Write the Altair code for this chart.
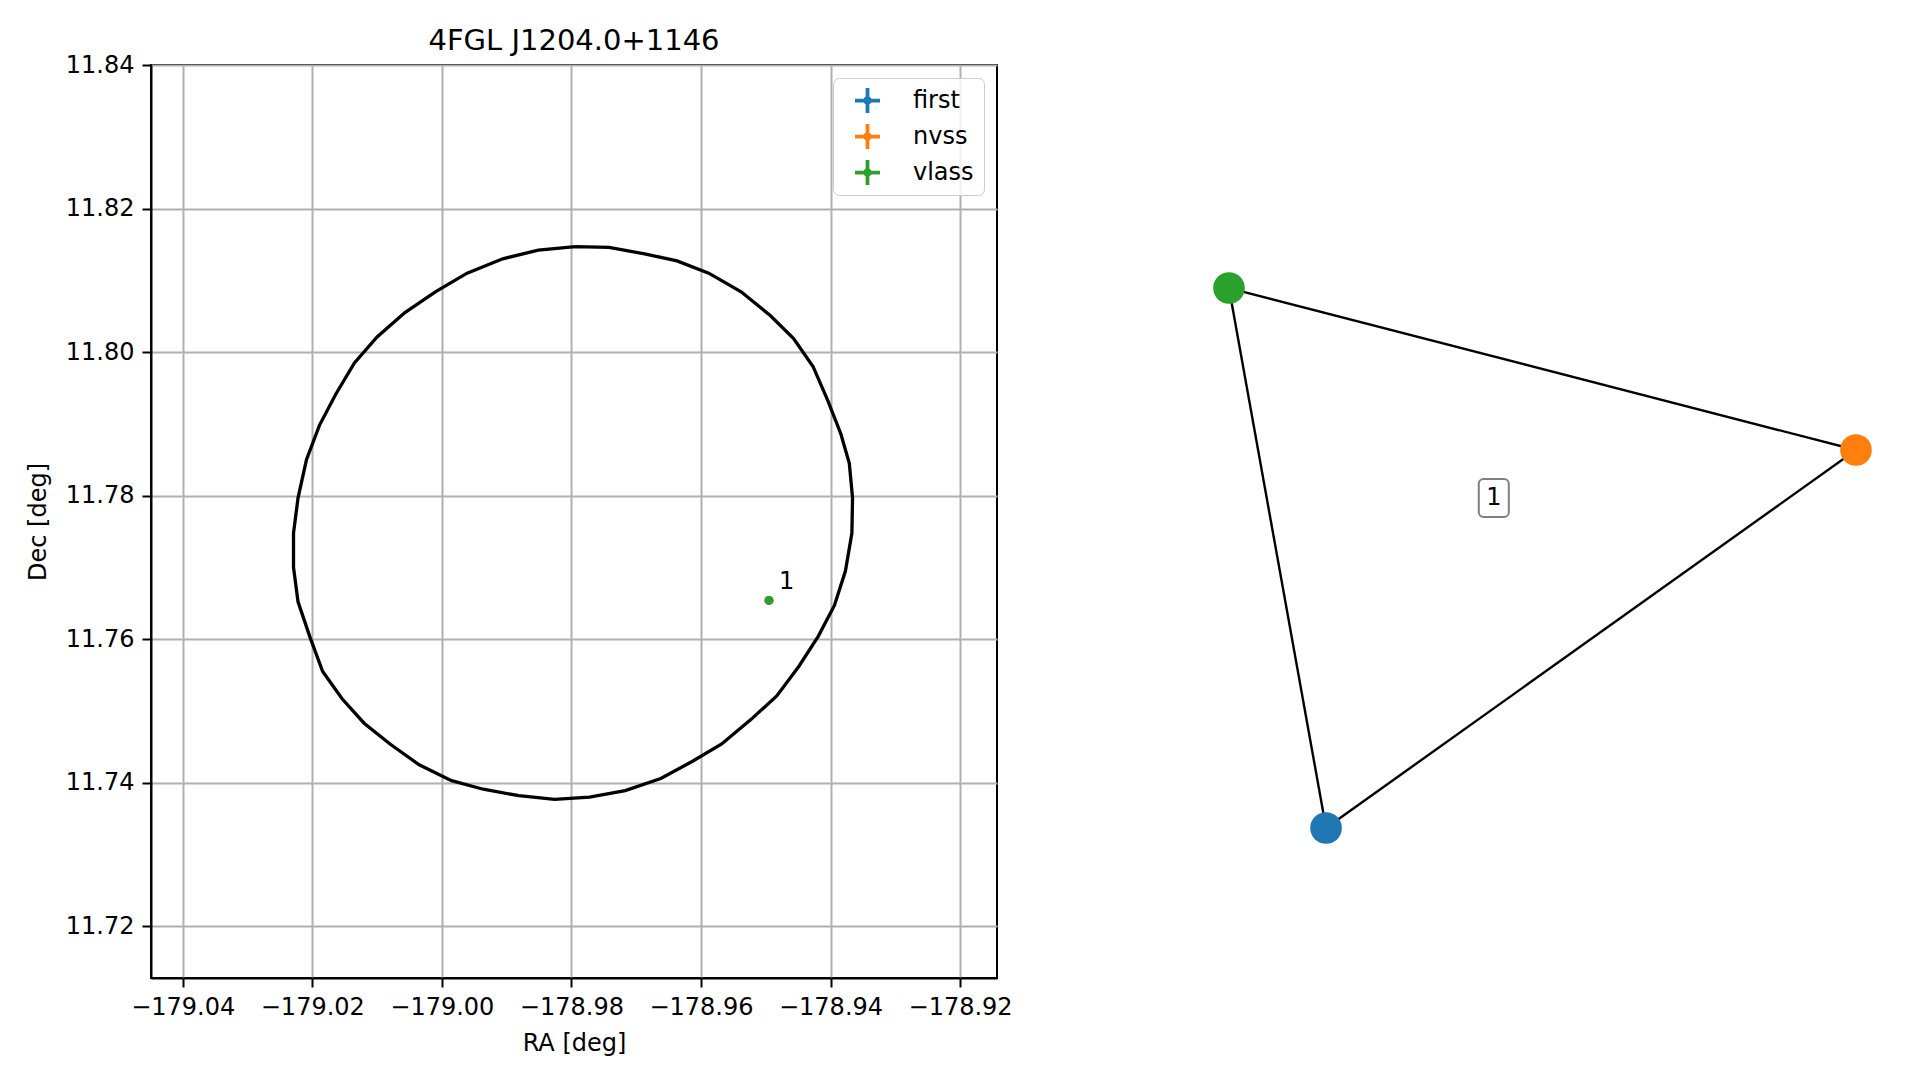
import altair as alt
import pandas as pd

# ---- data ----
ellipse_ra = [-178.9794, -178.9742, -178.9687, -178.9637, -178.9588, -178.9538, -178.9493, -178.9457,
              -178.9427, -178.9404, -178.9384, -178.9371, -178.9366, -178.9367, -178.9377, -178.9394,
              -178.9419, -178.9449, -178.9483, -178.9523, -178.9568, -178.9613, -178.9662, -178.9717,
              -178.9772, -178.9826, -178.9881, -178.9936, -178.9985, -179.0035, -179.0080, -179.0120,
              -179.0154, -179.0184, -179.0204, -179.0222, -179.0229, -179.0229, -179.0222, -179.0209,
              -179.0189, -179.0164, -179.0135, -179.0100, -179.0057, -179.0010, -178.9961, -178.9906,
              -178.9851, -178.9794]
ellipse_dec = [11.8147, 11.8146, 11.8137, 11.8127, 11.8110, 11.8084, 11.8051, 11.8019, 11.7980, 11.7932,
               11.7886, 11.7845, 11.7797, 11.7748, 11.7695, 11.7647, 11.7604, 11.7562, 11.7521, 11.7488,
               11.7454, 11.7430, 11.7406, 11.7389, 11.7380, 11.7377, 11.7382, 11.7391, 11.7403, 11.7425,
               11.7454, 11.7483, 11.7517, 11.7555, 11.7604, 11.7652, 11.7700, 11.7748, 11.7797, 11.7850,
               11.7898, 11.7941, 11.7985, 11.8021, 11.8055, 11.8084, 11.8110, 11.8130, 11.8142, 11.8147]

surveys = ["first", "nvss", "vlass"]
survey_colors = ["#1f77b4", "#ff7f0e", "#2ca02c"]
src_ra = [-178.9495, -178.9495, -178.9495]
src_dec = [11.7654, 11.7654, 11.7654]
src_label = ["1"]
src_label_ra = [-178.9495]
src_label_dec = [11.7654]

x_ticks = [-179.04, -179.02, -179.00, -178.98, -178.96, -178.94, -178.92]
y_ticks = [11.72, 11.74, 11.76, 11.78, 11.80, 11.82, 11.84]

# network (layout coordinates)
node_names = ["first", "nvss", "vlass"]
node_x = [0.207, 0.943, 0.0722]
node_y = [0.1643, 0.5783, 0.7557]
edge_src = ["first", "first", "nvss"]
edge_dst = ["nvss", "vlass", "vlass"]
edge_label = ["1"]
edge_label_x = [0.440]
edge_label_y = [0.5257]

FONT = "DejaVu Sans"
CROSS = ("M-1,-0.15H1V0.15H-1Z M-0.15,-1H0.15V1H-0.15Z "
         "M0.34,0A0.34,0.34 0 1 1 -0.34,0A0.34,0.34 0 1 1 0.34,0Z")
ROUNDRECT = ("M-0.54,-1H0.54A0.25,0.25 0 0 1 0.79,-0.75V0.75A0.25,0.25 0 0 1 0.54,1"
             "H-0.54A0.25,0.25 0 0 1 -0.79,0.75V-0.75A0.25,0.25 0 0 1 -0.54,-1Z")

# ---- tables ----
ell_df = pd.DataFrame({"ra": ellipse_ra, "dec": ellipse_dec, "i": list(range(len(ellipse_ra)))})
pts_df = pd.DataFrame({"ra": src_ra, "dec": src_dec, "survey": surveys})
lab_df = pd.DataFrame({"ra": src_label_ra, "dec": src_label_dec, "label": src_label})

pos = {n: (x, y) for n, x, y in zip(node_names, node_x, node_y)}
edges_df = pd.DataFrame({
    "x": [pos[s][0] for s in edge_src], "y": [pos[s][1] for s in edge_src],
    "x2": [pos[d][0] for d in edge_dst], "y2": [pos[d][1] for d in edge_dst],
})
nodes_df = pd.DataFrame({"x": node_x, "y": node_y, "survey": node_names})
elab_df = pd.DataFrame({"x": edge_label_x, "y": edge_label_y, "label": edge_label})

# ---- left panel ----
xscale = alt.Scale(domain=[-179.0449, -178.9143], nice=False, zero=False)
yscale = alt.Scale(domain=[11.7128, 11.84], nice=False, zero=False)
xaxis = alt.Axis(values=x_ticks, format=".2f", grid=True, titlePadding=12)
yaxis = alt.Axis(values=y_ticks, format=".2f", grid=True, titlePadding=15)

ellipse = alt.Chart(ell_df).mark_line(color="black", strokeWidth=3.3).encode(
    x=alt.X("ra:Q", scale=xscale, axis=xaxis, title="RA [deg]"),
    y=alt.Y("dec:Q", scale=yscale, axis=yaxis, title="Dec [deg]"),
    order="i:Q",
)

points = alt.Chart(pts_df).mark_circle(size=80, opacity=1).encode(
    x=alt.X("ra:Q", scale=xscale),
    y=alt.Y("dec:Q", scale=yscale),
    color=alt.Color(
        "survey:N",
        scale=alt.Scale(domain=surveys, range=survey_colors),
        legend=alt.Legend(
            title=None, orient="top-right", offset=13, symbolType=CROSS, symbolSize=625,
            symbolStrokeWidth=0, symbolOpacity=1, labelFontSize=24, labelFont=FONT,
            labelColor="black", padding=10, rowPadding=11, symbolOffset=12, labelOffset=33,
            strokeColor="#cccccc", cornerRadius=6, fillColor="rgba(255,255,255,0.8)",
        ),
    ),
)

labels = alt.Chart(lab_df).mark_text(
    align="left", baseline="middle", dx=10, dy=-18, fontSize=24, font=FONT, color="black"
).encode(x=alt.X("ra:Q", scale=xscale), y=alt.Y("dec:Q", scale=yscale), text="label:N")

left = alt.layer(ellipse, points, labels).properties(
    width=846, height=913,
    title=alt.Title("4FGL J1204.0+1146", fontSize=29, fontWeight="normal", font=FONT,
                    color="black", offset=-3),
    view=alt.ViewBackground(stroke="black", strokeWidth=2),
)

# ---- right panel (network) ----
nx_scale = alt.Scale(domain=[0, 1], nice=False, zero=False)
ny_scale = alt.Scale(domain=[0, 1], nice=False, zero=False)

edges = alt.Chart(edges_df).mark_rule(color="black", strokeWidth=2.4).encode(
    x=alt.X("x:Q", scale=nx_scale, axis=None),
    y=alt.Y("y:Q", scale=ny_scale, axis=None),
    x2="x2:Q", y2="y2:Q",
)
nodes = alt.Chart(nodes_df).mark_circle(size=1000, opacity=1).encode(
    x=alt.X("x:Q", scale=nx_scale, axis=None),
    y=alt.Y("y:Q", scale=ny_scale, axis=None),
    color=alt.Color("survey:N", scale=alt.Scale(domain=surveys, range=survey_colors), legend=None),
)
box = alt.Chart(elab_df).mark_point(
    shape=ROUNDRECT, size=1444, filled=True, fill="white", stroke="#808080",
    strokeWidth=2, opacity=1, fillOpacity=1, strokeOpacity=1,
).encode(x=alt.X("x:Q", scale=nx_scale, axis=None), y=alt.Y("y:Q", scale=ny_scale, axis=None))
etext = alt.Chart(elab_df).mark_text(fontSize=24, font=FONT, color="black", baseline="middle").encode(
    x=alt.X("x:Q", scale=nx_scale, axis=None), y=alt.Y("y:Q", scale=ny_scale, axis=None), text="label:N"
)

right = alt.layer(edges, nodes, box, etext).properties(
    width=720, height=913,
    title=alt.Title(" ", fontSize=29, fontWeight="normal", font=FONT, offset=-3),
    view=alt.ViewBackground(stroke=None),
)

chart = alt.hconcat(left, right, spacing=163).resolve_scale(
    color="independent"
).resolve_legend(color="independent").properties(
    padding={"left": 17, "top": 18, "right": 5, "bottom": 5}
).configure(font=FONT).configure_view(stroke=None).configure_axis(
    domainColor="black", domainWidth=2, tickColor="black", tickWidth=2, tickSize=9,
    labelPadding=8, gridColor="#b0b0b0", gridWidth=2, labelFontSize=24, titleFontSize=24,
    titleFontWeight="normal", labelColor="black", titleColor="black", labelFont=FONT, titleFont=FONT,
)

chart.save("out.html", embed_options={"renderer": "svg", "actions": False})
